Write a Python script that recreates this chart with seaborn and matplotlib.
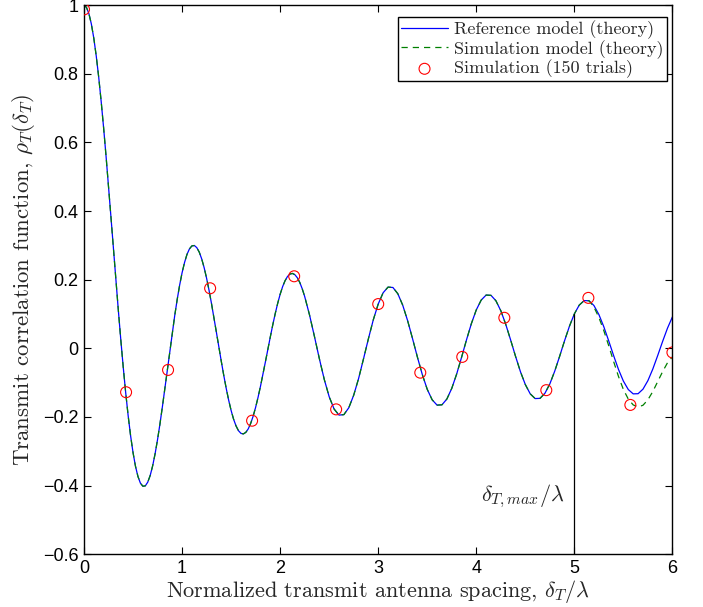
import numpy as np
import pandas as pd
import matplotlib
matplotlib.use("Agg")
import matplotlib.pyplot as plt
import seaborn as sns

# ---------------- data ----------------
# reference model curve, 0 .. 2.25 in steps of 0.025
rho_ref_dense = [
    1.0000, 0.9938, 0.9755, 0.9453, 0.9037, 0.8516, 0.7900, 0.7198, 0.6425, 0.5594,
    0.4720, 0.3819, 0.2907, 0.1997, 0.1109, 0.0255, -0.0550, -0.1292, -0.1962, -0.2548,
    -0.3042, -0.3440, -0.3736, -0.3930, -0.4020, -0.4010, -0.3902, -0.3706, -0.3426, -0.3073,
    -0.2658, -0.2193, -0.1689, -0.1159, -0.0617, -0.0076, 0.0452, 0.0954, 0.1419, 0.1839,
    0.2203, 0.2500, 0.2737, 0.2898, 0.2985, 0.2997, 0.2935, 0.2805, 0.2607, 0.2351,
    0.2043, 0.1691, 0.1304, 0.0893, 0.0467, 0.0039, -0.0382, -0.0788, -0.1167, -0.1511,
    -0.1812, -0.2064, -0.2261, -0.2401, -0.2479, -0.2495, -0.2450, -0.2347, -0.2186, -0.1976,
    -0.1720, -0.1425, -0.1101, -0.0752, -0.0390, -0.0025, 0.0337, 0.0686, 0.1014, 0.1312,
    0.1575, 0.1796, 0.1970, 0.2094, 0.2165, 0.2183, 0.2147, 0.2058, 0.1921, 0.1737,
    0.1513,
]
# reference model curve, 2.30 .. 6.00 in steps of 0.05
rho_ref_coarse = [
    0.0968, 0.0342, -0.0304, -0.0908, -0.1411, -0.1769, -0.1947, -0.1933, -0.1733, -0.1367,
    -0.0880, -0.0308, 0.0279, 0.0832, 0.1291, 0.1619, 0.1784, 0.1773, 0.1591, 0.1256,
    0.0805, 0.0282, -0.0260, -0.0769, -0.1196, -0.1501, -0.1656, -0.1647, -0.1479, -0.1168,
    -0.0749, -0.0262, 0.0244, 0.0720, 0.1120, 0.1406, 0.1552, 0.1544, 0.1387, 0.1097,
    0.0703, 0.0246, -0.0231, -0.0679, -0.1056, -0.1327, -0.1465, -0.1459, -0.1311, -0.1037,
    -0.0665, -0.0232, 0.0219, 0.0644, 0.1003, 0.1260, 0.1391, 0.1386, 0.1246, 0.0986,
    0.0632, 0.0220, -0.0209, -0.0615, -0.0956, -0.1202, -0.1328, -0.1323, -0.1190, -0.0942,
    -0.0604, -0.0210, 0.0201, 0.0589, 0.0916,
]
# simulation model (theory): same as reference up to ~5.15, then it deviates
rho_sim_tail = [0.1200, 0.0900, 0.0520, 0.0080, -0.0380, -0.0820,
                -0.1200, -0.1480, -0.1650, -0.1710, -0.1660, -0.1500,
                -0.1260, -0.0970, -0.0680, -0.0420, -0.0250]

spacing = np.concatenate([np.linspace(0.0, 2.25, len(rho_ref_dense)),
                          np.linspace(2.30, 6.0, len(rho_ref_coarse))])
rho_reference = rho_ref_dense + rho_ref_coarse
rho_sim_model = rho_ref_dense + rho_ref_coarse[:len(rho_ref_coarse) - len(rho_sim_tail)] + rho_sim_tail

sim_spacing = [0.0, 0.429, 0.857, 1.286, 1.714, 2.143, 2.571, 3.0,
               3.429, 3.857, 4.286, 4.714, 5.143, 5.571, 6.0]
sim_rho = [0.988, -0.128, -0.063, 0.175, -0.211, 0.210, -0.178, 0.129,
           -0.071, -0.025, 0.089, -0.122, 0.147, -0.165, -0.012]

delta_max = 5.0

x_ticks = [0, 1, 2, 3, 4, 5, 6]
y_ticks = [-0.6, -0.4, -0.2, 0, 0.2, 0.4, 0.6, 0.8, 1]
y_ticklabels = ["\u22120.6", "\u22120.4", "\u22120.2", "0", "0.2", "0.4", "0.6", "0.8", "1"]

labels = ["Reference model (theory)", "Simulation model (theory)", "Simulation (150 trials)"]

# ---------------- plotting ----------------
sns.set_style("white")
plt.rcParams["mathtext.fontset"] = "cm"
plt.rcParams["axes.formatter.use_mathtext"] = True

df_ref = pd.DataFrame({"x": spacing, "y": rho_reference})
df_mod = pd.DataFrame({"x": spacing, "y": rho_sim_model})
df_sim = pd.DataFrame({"x": sim_spacing, "y": sim_rho})

fig = plt.figure(figsize=(7.03, 6.07), dpi=100)
ax = fig.add_axes([0.1195, 0.0871, 0.837, 0.9042])

sns.lineplot(data=df_ref, x="x", y="y", ax=ax, color=(0, 0, 1), lw=0.9,
             label=labels[0], sort=False)
sns.lineplot(data=df_mod, x="x", y="y", ax=ax, color=(0, 0.5, 0), lw=0.9,
             label=labels[1], sort=False)
ax.lines[-1].set_dashes([5, 4])
sns.scatterplot(data=df_sim, x="x", y="y", ax=ax, marker="o", s=62,
                facecolors="none", edgecolor=(1, 0, 0), linewidth=0.8,
                label=labels[2], zorder=5)

# vertical marker at delta_T,max
y_top = rho_reference[int(np.argmin(np.abs(spacing - delta_max)))]
ax.plot([delta_max, delta_max], [y_ticks[0], y_top], color="black", lw=0.9)
ax.text(4.47, -0.43, r"$\delta_{T,max}/\lambda$", fontsize=16, ha="center", va="center")

ax.set_xlim(0, 6)
ax.set_ylim(-0.6, 1.0)
ax.set_xticks(x_ticks)
ax.set_xticklabels([str(t) for t in x_ticks], family="Liberation Sans", fontsize=13)
ax.set_yticks(y_ticks)
ax.set_yticklabels(y_ticklabels, family="Liberation Sans", fontsize=13)
ax.tick_params(direction="in", length=5, width=0.8, top=True, right=True,
               bottom=True, left=True, pad=4, colors="black")

for sp in ax.spines.values():
    sp.set_color("black")
    sp.set_linewidth(1.0)

ax.set_xlabel(r"Normalized transmit antenna spacing, $\delta_T/\lambda$",
              family="cmr10", fontsize=16, labelpad=1)
ax.set_ylabel(r"Transmit correlation function, $\rho_T(\delta_T)$",
              family="cmr10", fontsize=16.5, labelpad=4)

leg = ax.legend(loc="upper right", bbox_to_anchor=(0.99, 0.978), borderaxespad=0,
                prop={"family": "cmr10", "size": 13}, frameon=True, fancybox=False,
                handlelength=2.6, handletextpad=0.35, borderpad=0.15, labelspacing=0.06,
                edgecolor="black", framealpha=1)
leg.get_frame().set_linewidth(1.0)

fig.savefig("out.png", dpi=100)
